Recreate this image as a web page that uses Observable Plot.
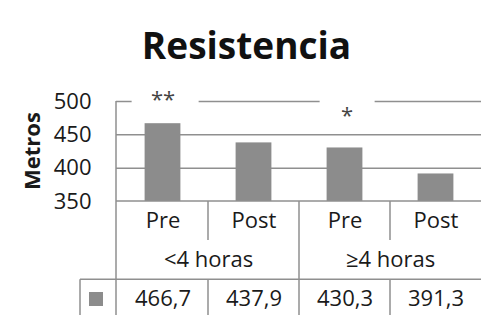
<!DOCTYPE html>
<html><head><meta charset="utf-8">
<script src="https://cdn.jsdelivr.net/npm/d3@7"></script>
<script src="https://cdn.jsdelivr.net/npm/@observablehq/plot@0.6"></script>
<style>
body{margin:0;background:#fff;}
#wrap{position:relative;width:481px;height:315px;overflow:hidden;font-family:"Open Sans",sans-serif;background:#fff;}
#wrap svg{position:absolute;left:0;top:0;}
#title{position:absolute;left:0;top:26px;width:481px;padding-left:12px;box-sizing:border-box;text-align:center;font-size:37px;line-height:37px;font-weight:700;color:#111;}
</style></head><body>
<div id="wrap"></div>
<script>
// ---- data ----
const title = "Resistencia";
const yLabel = "Metros";
const groups = ["<4 horas", "≥4 horas"];
const phases = ["Pre", "Post"];
const values = [466.7, 437.9, 430.3, 391.3];
const yTicks = [350, 400, 450, 500];
const sigLabels = ["**", "*"];          // significance marks
const sigGroups = ["<4 horas", "≥4 horas"];
const sigPhases = ["Pre", "Pre"];

const keyOf = (g, p) => g + "|" + p;
const rows = values.map((v, i) => {
  const group = groups[Math.floor(i / phases.length)], phase = phases[i % phases.length];
  return {group, phase, key: keyOf(group, phase), value: v};
});
const sig = sigLabels.map((label, i) => ({label, key: keyOf(sigGroups[i], sigPhases[i])}));

// ---- layout ----
const W = 481, H = 315, ML = 116, MR = 0, MT = 101, MB = 114;
const bw = (W - ML - MR) / rows.length;
const gray = "#8f8f8f", barFill = "#8c8c8c", ink = "#1a1a1a";
const fmt = v => v.toFixed(1).replace(".", ",");

const tableLines = (index, {x}, vals, {width, height, marginLeft, marginTop, marginBottom}) => {
  const g = d3.create("svg:g").attr("stroke", gray).attr("stroke-width", 1.5).attr("fill", "none");
  const y0 = height - marginBottom, r1 = y0 + 39, r2 = y0 + 78.3, keyL = 80;
  const line = (x1, y1, x2, y2) => g.append("line").attr("x1", x1).attr("y1", y1).attr("x2", x2).attr("y2", y2);
  line(marginLeft, marginTop, marginLeft, height);
  line(marginLeft, y0, width, y0);
  line(keyL, r2, width, r2);
  line(keyL, r2, keyL, height);
  for (const r of rows) if (r.phase !== phases[0]) {
    const xx = x(r.key);
    line(xx, y0, xx, r1);
    line(xx, r2, xx, height);
  }
  for (const gName of groups.slice(1)) {
    const xx = x(keyOf(gName, phases[0]));
    line(xx, y0, xx, height);
  }
  g.append("rect").attr("x", 89).attr("y", y0 + 91).attr("width", 14).attr("height", 14)
    .attr("fill", barFill).attr("stroke", "none");
  return g.node();
};

const yTitle = (index, scales, vals, {height, marginTop, marginBottom}) => {
  const cy = (marginTop + height - marginBottom) / 2;
  const t = d3.create("svg:text")
    .attr("transform", `translate(32,${cy}) rotate(-90)`)
    .attr("text-anchor", "middle").attr("dy", "0.35em")
    .attr("font-size", 22).attr("font-weight", "bold").attr("fill", ink)
    .text(yLabel);
  return t.node();
};

const sigBoxes = (index, {x}, vals, {marginTop}) => {
  const g = d3.create("svg:g").attr("fill", "white");
  for (const s of sig) {
    const c = x(s.key) + bw / 2, tw = s.label.length * 12;
    g.append("rect").attr("x", c - tw / 2 - 19).attr("y", marginTop - 5)
      .attr("width", tw + 19 + 24).attr("height", 10);
  }
  return g.node();
};

const chart = Plot.plot({
  width: W, height: H,
  marginLeft: ML, marginRight: MR, marginTop: MT, marginBottom: MB,
  style: {fontFamily: "Open Sans", fontSize: "22px", color: ink, background: "white", overflow: "visible"},
  x: {type: "band", domain: rows.map(d => d.key), padding: 0, axis: null},
  y: {domain: [yTicks[0], yTicks[yTicks.length - 1]], axis: null},
  marks: [
    Plot.ruleY(yTicks.slice(1), {stroke: gray, strokeWidth: 1.5}),
    sigBoxes,
    Plot.barY(rows, {x: "key", y1: yTicks[0], y2: "value", fill: barFill, insetLeft: 27.6, insetRight: 27.6}),
    tableLines,
    Plot.axisY(yTicks, {tickSize: 0, tickPadding: 25, fontSize: 22, color: ink, label: null}),
    yTitle,
    Plot.text([sig[0]], {x: "key", text: "label", frameAnchor: "top", lineAnchor: "top", dy: -10.5, fontSize: 22, fill: "#444"}),
    Plot.text([sig[1]], {x: "key", text: "label", frameAnchor: "top", lineAnchor: "top", dx: 2, dy: 5.5, fontSize: 22, fill: "#444"}),
    Plot.text(rows, {x: "key", text: "phase", frameAnchor: "bottom", lineAnchor: "middle", dy: 19.5, fontSize: 22, fill: ink}),
    Plot.text(rows.filter(d => d.phase === phases[0]), {x: "key", text: "group", frameAnchor: "bottom", lineAnchor: "middle", dx: bw / 2, dy: 58.8, fontSize: 22, fill: ink}),
    Plot.text(rows, {x: "key", text: d => fmt(d.value), frameAnchor: "bottom", lineAnchor: "middle", dy: 97.5, fontSize: 22, fill: ink})
  ]
});

const wrap = document.getElementById("wrap");
wrap.appendChild(chart);
const t = document.createElement("div");
t.id = "title";
t.textContent = title;
wrap.appendChild(t);
</script>
</body></html>
